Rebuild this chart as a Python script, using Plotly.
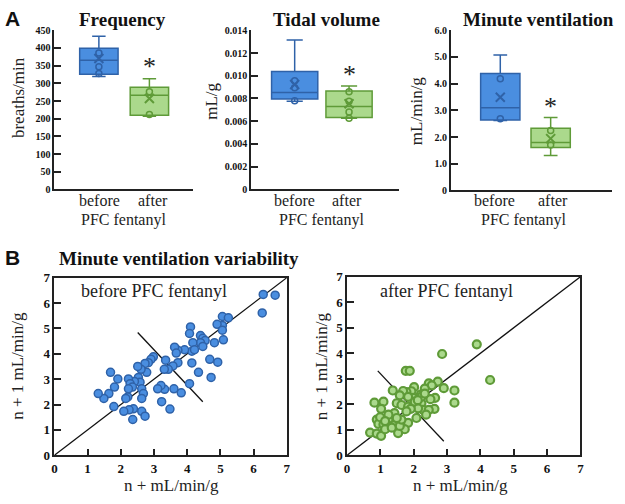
import plotly.graph_objects as go

# ---------------- Panel A data (box stats: lowerfence, q1, median, q3, upperfence)
groups = ["before", "after"]

freq_before_box = [319, 326, 365, 399, 433]
freq_before_mean = 370
freq_before_pts = [386, 347, 328]
freq_after_box = [207, 210, 266, 289, 313]
freq_after_mean = 257
freq_after_pts = [276, 212]

tv_before_box = [0.00775, 0.00795, 0.00852, 0.01037, 0.01315]
tv_before_mean = 0.00923
tv_before_pts = [0.00957, 0.00895, 0.00781]
tv_after_box = [0.00625, 0.00633, 0.00730, 0.00866, 0.00909]
tv_after_mean = 0.00753
tv_after_pts = [0.00860, 0.00775, 0.00682, 0.00625]

mv_before_box = [2.62, 2.64, 3.10, 4.38, 5.07]
mv_before_mean = 3.49
mv_before_pts = [4.18, 2.68]
mv_after_box = [1.31, 1.61, 1.79, 2.33, 2.73]
mv_after_mean = 1.94
mv_after_pts = [2.24, 1.70]

freq_ticks = [0, 50, 100, 150, 200, 250, 300, 350, 400, 450]
tv_ticks = [0, 0.002, 0.004, 0.006, 0.008, 0.010, 0.012, 0.014]
tv_ticklabels = ["0", "0.002", "0.004", "0.006", "0.008", "0.010", "0.012", "0.014"]
mv_ticks = [0, 1, 2, 3, 4, 5, 6]
mv_ticklabels = ["0", "1.0", "2.0", "3.0", "4.0", "5.0", "6.0"]

# ---------------- Panel B data (Poincare plots)
before_x = [6.29, 6.65, 6.26, 5.06, 5.24, 5.06, 4.90, 5.06, 5.09, 4.82, 4.92, 4.68, 4.72,
            4.34, 4.14, 4.10, 4.07, 4.40, 4.47, 4.54, 4.40, 4.47, 4.17, 4.14, 4.22, 3.92,
            3.72, 3.62, 3.67, 3.72, 3.57, 3.43, 3.31, 3.35, 4.07, 3.82, 3.60, 3.32, 3.21,
            3.11, 3.23, 3.48, 2.98, 2.91, 2.83, 2.73, 2.78, 2.61, 2.51, 2.53, 2.58, 2.41,
            2.23, 2.28, 2.35, 2.23, 2.21, 2.63, 2.68, 2.63, 2.38, 2.25, 2.09, 2.63, 2.73,
            2.36, 1.79, 1.91, 1.69, 1.81, 1.64, 1.49, 1.32, 2.15]
before_y = [6.34, 6.31, 5.61, 5.47, 5.42, 5.12, 5.16, 4.93, 4.55, 4.44, 3.67, 3.78, 3.07,
            3.27, 3.64, 5.06, 4.80, 4.72, 4.61, 4.52, 4.44, 4.29, 4.44, 4.10, 4.16, 4.16,
            4.14, 4.26, 4.03, 3.65, 3.52, 3.39, 3.39, 3.75, 2.82, 2.46, 2.62, 2.60, 2.75,
            2.62, 2.11, 1.82, 3.88, 3.78, 3.65, 3.62, 3.27, 3.39, 3.50, 3.07, 2.88, 2.91,
            3.01, 2.82, 2.69, 2.62, 2.30, 2.62, 2.43, 2.24, 1.83, 1.79, 1.73, 1.73, 1.54,
            1.41, 1.92, 3.01, 3.27, 2.69, 2.43, 2.24, 2.43, 2.24]

after_x = [3.89, 2.85, 4.29, 3.22, 3.22, 2.90, 2.72, 2.45, 2.54, 2.64, 2.50, 2.62, 2.33,
           2.21, 2.01, 1.93, 1.98, 1.78, 1.68, 1.76, 1.88, 1.37, 1.49, 1.63, 1.83, 2.03,
           2.23, 2.28, 2.45, 2.37, 2.08, 1.83, 1.73, 1.53, 1.38, 1.42, 1.24, 1.09, 0.82,
           1.02, 0.89, 0.94, 1.09, 1.24, 0.69, 0.89, 1.02, 1.14, 1.34, 1.58, 1.63, 1.49,
           1.24, 2.03, 2.13, 1.91, 1.78, 2.23, 2.33, 2.12, 1.83, 1.58, 0.99, 1.14]
after_y = [4.35, 3.97, 2.95, 2.54, 2.06, 2.63, 2.89, 2.82, 2.74, 2.25, 2.20, 1.82, 2.61,
           2.38, 2.67, 2.51, 2.25, 2.48, 2.52, 3.31, 3.31, 2.54, 2.04, 1.97, 1.91, 1.97,
           2.04, 1.78, 1.78, 1.59, 1.46, 1.27, 1.02, 0.87, 1.18, 1.65, 1.40, 2.10, 2.06,
           1.82, 1.40, 1.23, 1.21, 1.15, 0.89, 0.85, 0.76, 1.02, 1.08, 1.15, 1.40, 1.46,
           1.59, 2.10, 1.84, 1.82, 1.72, 2.29, 2.42, 2.16, 2.29, 2.35, 1.49, 1.34]

identity_line = [0, 7]
before_cross_x = [2.51, 4.47]
before_cross_y = [4.84, 2.11]
after_cross_x = [0.92, 2.90]
after_cross_y = [3.31, 0.55]

# ---------------- styling
W, H = 625, 504
SERIF = "Liberation Serif, Times New Roman, serif"
BLUE_FILL, BLUE_LINE = "#4a8ee0", "#2f62a8"
GREEN_FILL, GREEN_LINE = "#abd98c", "#5f9b38"


def px(x):
    return x / W


def py(y):
    return 1 - y / H


fig = go.Figure()

panels = [
    (freq_before_box, freq_before_mean, freq_before_pts, freq_after_box, freq_after_mean, freq_after_pts,
     "x", "y", [0, 450], freq_ticks, [str(t) for t in freq_ticks], [-0.88, 1.86], 0.76,
     [52, 192], [24, 188], 347, [98, 152]),
    (tv_before_box, tv_before_mean, tv_before_pts, tv_after_box, tv_after_mean, tv_after_pts,
     "x2", "y2", [0, 0.014], tv_ticks, tv_ticklabels, [-0.8, 1.91], 0.85,
     [251, 400], [24, 188], 0.0101, [295, 348]),
    (mv_before_box, mv_before_mean, mv_before_pts, mv_after_box, mv_after_mean, mv_after_pts,
     "x3", "y3", [0, 6], mv_ticks, mv_ticklabels, [-0.98, 2.22], 0.78,
     [453, 616], [24, 189], 3.16, [497, 556]),
]

annotations = []
layout_axes = {}
for i, (bb, bm, bp, ab, am, ap, xa, ya, yr, yt, ytl, xr, bw, xd, yd, ast, lblx) in enumerate(panels):
    for pos, stats, mean, pts, fill, line in [(0, bb, bm, bp, BLUE_FILL, BLUE_LINE),
                                              (1, ab, am, ap, GREEN_FILL, GREEN_LINE)]:
        fig.add_trace(go.Box(
            x=[pos], lowerfence=[stats[0]], q1=[stats[1]], median=[stats[2]],
            q3=[stats[3]], upperfence=[stats[4]], width=bw, whiskerwidth=0.35,
            fillcolor=fill, line=dict(color=line, width=1.5), boxpoints=False,
            xaxis=xa, yaxis=ya, showlegend=False, hoverinfo="skip"))
        fig.add_trace(go.Scatter(
            x=[pos] * len(pts), y=pts, mode="markers",
            marker=dict(symbol="circle-open", size=6, color=line, line=dict(width=1.5)),
            xaxis=xa, yaxis=ya, showlegend=False, hoverinfo="skip"))
        fig.add_trace(go.Scatter(
            x=[pos], y=[mean], mode="markers",
            marker=dict(symbol="x-thin-open", size=9, color=line, line=dict(width=2, color=line)),
            xaxis=xa, yaxis=ya, showlegend=False, hoverinfo="skip"))
    fig.add_annotation(x=1, y=ast, xref=xa, yref=ya, text="*", showarrow=False,
                       xanchor="center", yanchor="middle",
                       font=dict(family=SERIF, size=26, color="#222"))
    for g, lx in zip(groups, lblx):
        annotations.append(dict(x=px(lx), y=py(199), text=g,
                                font=dict(family=SERIF, size=16, color="#222")))
    sfx = "" if i == 0 else str(i + 1)
    layout_axes["xaxis" + sfx] = dict(
        domain=[px(xd[0]), px(xd[1])], range=xr, anchor=ya, showticklabels=False,
        ticks="", showline=True, linecolor="#222", linewidth=2, showgrid=False, zeroline=False)
    layout_axes["yaxis" + sfx] = dict(
        domain=[py(yd[1]), py(yd[0])], range=yr, anchor=xa, tickvals=yt, ticktext=ytl,
        ticks="inside", ticklen=7, tickwidth=2, tickcolor="#222", showline=True,
        linecolor="#222", linewidth=2, showgrid=False, zeroline=False,
        tickfont=dict(family=SERIF, size=10, color="#111", weight="bold"))

# Panel B scatter plots
for xs, ys, cx, cy, fill, line, xa, ya, lw in [
        (before_x, before_y, before_cross_x, before_cross_y, BLUE_FILL, BLUE_LINE, "x4", "y4", 1.5),
        (after_x, after_y, after_cross_x, after_cross_y, GREEN_FILL, GREEN_LINE, "x5", "y5", 2.2)]:
    fig.add_trace(go.Scatter(x=identity_line, y=identity_line, mode="lines",
                             line=dict(color="#111", width=1.3), xaxis=xa, yaxis=ya,
                             showlegend=False, hoverinfo="skip"))
    fig.add_trace(go.Scatter(x=cx, y=cy, mode="lines", line=dict(color="#111", width=1.3),
                             xaxis=xa, yaxis=ya, showlegend=False, hoverinfo="skip"))
    fig.add_trace(go.Scatter(x=xs, y=ys, mode="markers",
                             marker=dict(size=8, color=fill, line=dict(color=line, width=lw)),
                             xaxis=xa, yaxis=ya, showlegend=False, hoverinfo="skip"))

for sfx, xd, yd, ya, xa in [("4", [52, 287], [279, 462], "y4", "x4"),
                            ("5", [348, 584], [278, 462], "y5", "x5")]:
    common = dict(range=[0, 7], tickvals=list(range(8)), ticks="inside", ticklen=7, tickwidth=1.5,
                  tickcolor="#222", showline=True, mirror=True, linecolor="#222", linewidth=1.5,
                  showgrid=False, zeroline=False,
                  tickfont=dict(family=SERIF, size=13, color="#111", weight="bold"))
    layout_axes["xaxis" + sfx] = dict(domain=[px(xd[0]), px(xd[1])], anchor=ya, **common)
    layout_axes["yaxis" + sfx] = dict(domain=[py(yd[1]), py(yd[0])], anchor=xa, **common)

annotations += [
    # panel letters
    dict(x=px(10), y=py(12), text="<b>A</b>", font=dict(family="Liberation Sans, Arial", size=21, color="#111")),
    dict(x=px(10), y=py(258), text="<b>B</b>", font=dict(family="Liberation Sans, Arial", size=21, color="#111")),
    # titles
    dict(x=px(121), y=py(13), text="<b>Frequency</b>", font=dict(family=SERIF, size=19, color="#111")),
    dict(x=px(327), y=py(13), text="<b>Tidal volume</b>", font=dict(family=SERIF, size=19, color="#111")),
    dict(x=px(542), y=py(13), text="<b>Minute ventilation</b>", font=dict(family=SERIF, size=19, color="#111")),
    dict(x=px(178), y=py(259), text="<b>Minute ventilation variability</b>", font=dict(family=SERIF, size=19, color="#111")),
    # y titles panel A
    dict(x=px(15), y=py(93), text="breaths/min", textangle=-90, font=dict(family=SERIF, size=17, color="#222")),
    dict(x=px(210), y=py(97), text="mL/g", textangle=-90, font=dict(family=SERIF, size=17, color="#222")),
    dict(x=px(418), y=py(107), text="mL/min/g", textangle=-90, font=dict(family=SERIF, size=17, color="#222")),
    # group captions
    dict(x=px(122), y=py(220), text="PFC fentanyl", font=dict(family=SERIF, size=16, color="#222")),
    dict(x=px(322), y=py(220), text="PFC fentanyl", font=dict(family=SERIF, size=16, color="#222")),
    dict(x=px(526), y=py(220), text="PFC fentanyl", font=dict(family=SERIF, size=16, color="#222")),
    # panel B labels
    dict(x=px(153), y=py(293), text="before PFC fentanyl", font=dict(family=SERIF, size=18, color="#222")),
    dict(x=px(449), y=py(293), text="after PFC fentanyl", font=dict(family=SERIF, size=18, color="#222")),
    dict(x=px(170), y=py(493), text="n + mL/min/g", font=dict(family=SERIF, size=17, color="#222")),
    dict(x=px(463), y=py(493), text="n + mL/min/g", font=dict(family=SERIF, size=17, color="#222")),
    dict(x=px(15), y=py(370), text="n + 1 mL/min/g", textangle=-90, font=dict(family=SERIF, size=17, color="#222")),
    dict(x=px(323), y=py(370), text="n + 1 mL/min/g", textangle=-90, font=dict(family=SERIF, size=17, color="#222")),
]
for a in annotations:
    a.update(xref="paper", yref="paper", showarrow=False, xanchor="center", yanchor="middle")
    fig.add_annotation(**a)

fig.update_layout(width=W, height=H, margin=dict(l=0, r=0, t=0, b=0),
                  paper_bgcolor="white", plot_bgcolor="white", showlegend=False,
                  **layout_axes)

fig.write_html("out.html", config={"displayModeBar": False},
               post_script="document.body.style.margin='0';document.body.style.overflow='hidden';")
